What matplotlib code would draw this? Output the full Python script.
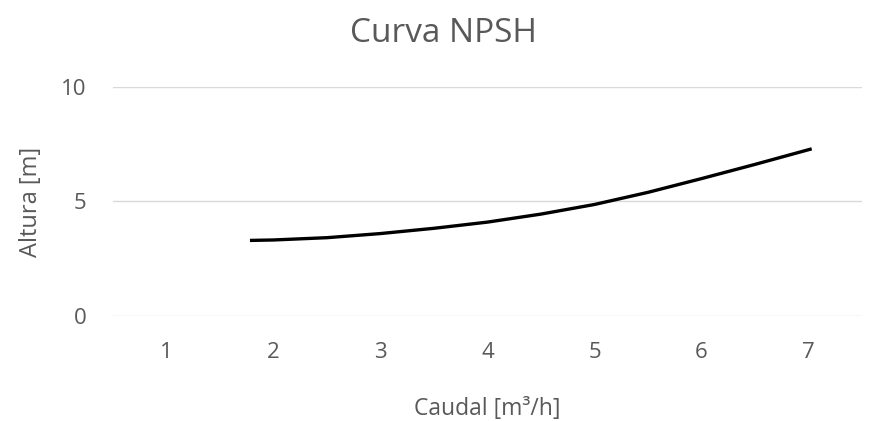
import matplotlib
matplotlib.use("Agg")
import matplotlib.pyplot as plt

# NPSH curve (Excel smoothed line)
caudal = [1.78, 2.0, 2.5, 3.0, 3.5, 4.0, 4.5, 5.0, 5.5, 6.0, 6.5, 7.03]
altura = [3.30, 3.32, 3.42, 3.60, 3.83, 4.10, 4.45, 4.87, 5.40, 6.00, 6.62, 7.30]
x_ticks = [1, 2, 3, 4, 5, 6, 7]
y_ticks = [0, 5, 10]

plt.rcParams["font.family"] = ["Open Sans", "DejaVu Sans"]
grey = "#595959"

fig = plt.figure(figsize=(8.86, 4.21), dpi=100)
ax = fig.add_axes([113 / 886, 1 - 316 / 421, (862 - 113) / 886, (316 - 87) / 421])

ax.plot(caudal, altura, color="black", linewidth=2.4, solid_capstyle="butt")

ax.set_xlim(0.5, 7.5)
ax.set_ylim(0, 10)
ax.set_xticks(x_ticks)
ax.set_yticks(y_ticks)
ax.grid(axis="y", color="#d9d9d9", linewidth=1)
ax.set_axisbelow(True)
for s in ax.spines.values():
    s.set_visible(False)
ax.tick_params(length=0, labelsize=16, colors=grey)
ax.tick_params(axis="x", pad=19)
ax.tick_params(axis="y", pad=19)

ax.set_xlabel("Caudal [m³/h]", fontsize=16.5, color=grey, labelpad=24)
ax.set_ylabel("Altura [m]", fontsize=17, color=grey, labelpad=13)
fig.text(0.5, 1 - 34 / 421, "Curva NPSH", fontsize=24, color=grey,
         ha="center", va="center")

fig.savefig("out.png", dpi=100)
